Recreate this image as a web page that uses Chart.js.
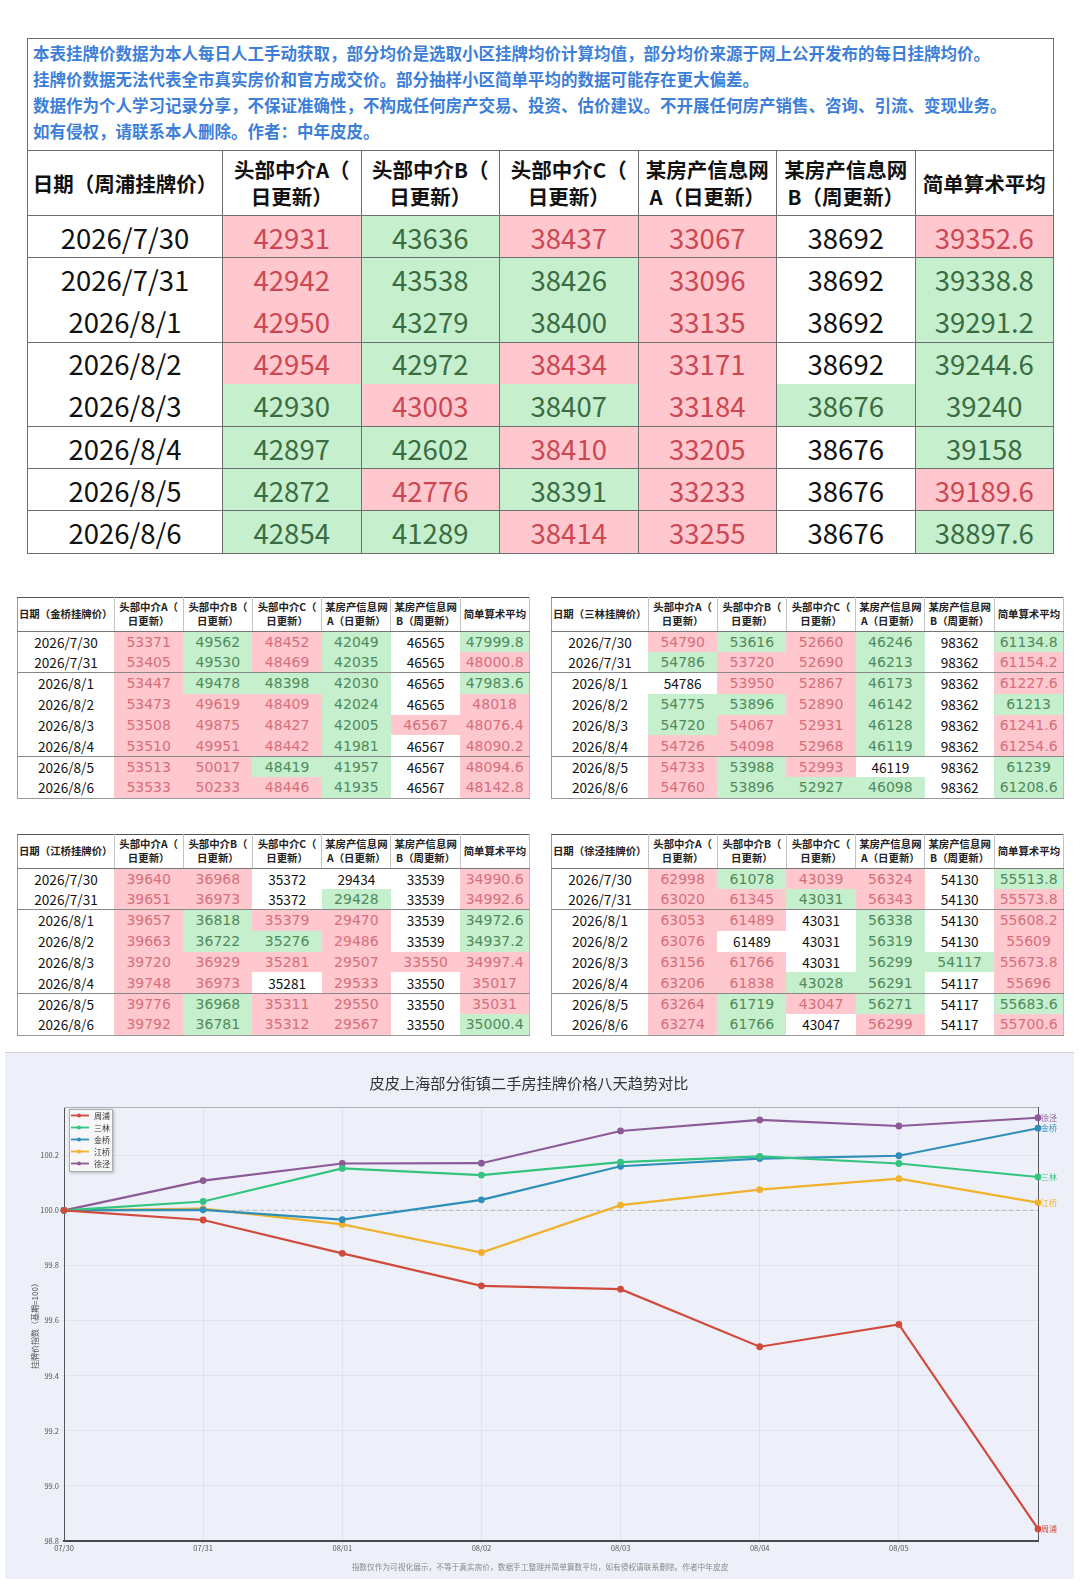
<!DOCTYPE html>
<html lang="zh-CN">
<head>
<meta charset="utf-8">
<script src="https://cdn.jsdelivr.net/npm/chart.js@4.4.1/dist/chart.umd.min.js"></script>
<style>
html, body { margin:0; padding:0; width:1080px; height:1586px; overflow:hidden; background:#fff; }
body { font-family:"Noto Sans CJK SC","Noto Sans",sans-serif; }
#page { position:relative; width:1080px; height:1586px; overflow:hidden; }
table { border-collapse:collapse; position:absolute; table-layout:fixed; }
td { padding:0; text-align:center; white-space:nowrap; overflow:hidden; }
#main { left:27px; top:38px; width:1026px; }
#main td { border:1px solid #6e6e6e; }
#main td.note { height:109px; text-align:left; vertical-align:top; color:#3d7fd8; font-size:16.5px;
  font-weight:bold; line-height:25.9px; padding:2px 0 0 5px; }
#main tr.head { height:65px; }
#main tr.head td { font-size:20.5px; font-weight:bold; line-height:27px; color:#111; }
#main tr.d { height:42.2px; }
#main tr.d td { font-size:27.5px; color:#111; }
#main tr.d td.r { background:#ffc7ce; color:#cc4752; }
#main tr.d td.g { background:#c6efce; color:#3a6c42; }
#main tr.cont td { border-top-style:hidden; }
.small { width:512px; border-left:1px solid #9a9a9a; border-right:1px solid #bcbcbc; border-top:1px solid #555; border-bottom:1px solid #999; }
.small tr.head { height:33.5px; }
.small tr.head td { font-size:10.4px; font-weight:bold; line-height:14.5px; color:#222; border-right:1px solid #c4c4c4; border-bottom:1px solid #777; }
.small tr.d { height:20.9px; }
.small tr.d td { font-size:13.6px; color:#111; line-height:20px; }
.small tr.d td.r { background:#ffc7ce; color:#d56f7b; font-family:"DejaVu Sans",sans-serif; font-size:14px; }
.small tr.d td.g { background:#c6efce; color:#4f8b5a; font-family:"DejaVu Sans",sans-serif; font-size:14px; }
.small tr.sep td { border-top:1px solid #888; }
#chartBox { position:absolute; left:5px; top:1052px; width:1069px; height:527px; background:#edf0f8; border-top:1px solid #d0d0d0; box-sizing:border-box; overflow:hidden; }
#trend { position:absolute; left:0; top:0; }
</style>
</head>
<body>
<div id="page">
<table id="main"></table>
<table class="small" id="tJinqiao" style="left:17px; top:597px;"></table>
<table class="small" id="tSanlin" style="left:551px; top:597px;"></table>
<table class="small" id="tJiangqiao" style="left:17px; top:834px;"></table>
<table class="small" id="tXujing" style="left:551px; top:834px;"></table>
<div id="chartBox"><canvas id="trend" width="1069" height="526"></canvas></div>
</div>
<script>
// ---- 表格数据 ----
const rowDates = ['2026/7/30','2026/7/31','2026/8/1','2026/8/2','2026/8/3','2026/8/4','2026/8/5','2026/8/6'];
const colHeads = ['头部中介A（<br>日更新）','头部中介B（<br>日更新）','头部中介C（<br>日更新）','某房产信息网<br>A（日更新）','某房产信息网<br>B（周更新）','简单算术平均'];
const notes = [
  '本表挂牌价数据为本人每日人工手动获取，部分均价是选取小区挂牌均价计算均值，部分均价来源于网上公开发布的每日挂牌均价。',
  '挂牌价数据无法代表全市真实房价和官方成交价。部分抽样小区简单平均的数据可能存在更大偏差。',
  '数据作为个人学习记录分享，不保证准确性，不构成任何房产交易、投资、估价建议。不开展任何房产销售、咨询、引流、变现业务。',
  '如有侵权，请联系本人删除。作者：中年皮皮。'
];

const zhoupuRows = [
  [42931,43636,38437,33067,38692,39352.6],
  [42942,43538,38426,33096,38692,39338.8],
  [42950,43279,38400,33135,38692,39291.2],
  [42954,42972,38434,33171,38692,39244.6],
  [42930,43003,38407,33184,38676,39240],
  [42897,42602,38410,33205,38676,39158],
  [42872,42776,38391,33233,38676,39189.6],
  [42854,41289,38414,33255,38676,38897.6]
];
const zhoupuMarks = ['rgrrwr','rggrwg','rggrwg','rgrrwg','grgrgg','ggrrwg','grgrwr','ggrrwg'];

const jinqiaoRows = [
  [53371,49562,48452,42049,46565,47999.8],
  [53405,49530,48469,42035,46565,48000.8],
  [53447,49478,48398,42030,46565,47983.6],
  [53473,49619,48409,42024,46565,48018],
  [53508,49875,48427,42005,46567,48076.4],
  [53510,49951,48442,41981,46567,48090.2],
  [53513,50017,48419,41957,46567,48094.6],
  [53533,50233,48446,41935,46567,48142.8]
];
const jinqiaoMarks = ['rgrgwg','rgrgwr','rgggwg','rrrgwr','rrrgrr','rrrgwr','rrggwr','rrrgwr'];

const sanlinRows = [
  [54790,53616,52660,46246,98362,61134.8],
  [54786,53720,52690,46213,98362,61154.2],
  [54786,53950,52867,46173,98362,61227.6],
  [54775,53896,52890,46142,98362,61213],
  [54720,54067,52931,46128,98362,61241.6],
  [54726,54098,52968,46119,98362,61254.6],
  [54733,53988,52993,46119,98362,61239],
  [54760,53896,52927,46098,98362,61208.6]
];
const sanlinMarks = ['rgrgwg','grrgwr','wrrgwr','ggrgwg','grrgwr','rrrgwr','rgrwwg','rgggwg'];

const jiangqiaoRows = [
  [39640,36968,35372,29434,33539,34990.6],
  [39651,36973,35372,29428,33539,34992.6],
  [39657,36818,35379,29470,33539,34972.6],
  [39663,36722,35276,29486,33539,34937.2],
  [39720,36929,35281,29507,33550,34997.4],
  [39748,36973,35281,29533,33550,35017],
  [39776,36968,35311,29550,33550,35031],
  [39792,36781,35312,29567,33550,35000.4]
];
const jiangqiaoMarks = ['rrwwwr','rrwgwr','rgrrwg','rggrwg','rrrrrr','rrwrwr','rgrrwr','rgrrwg'];

const xujingRows = [
  [62998,61078,43039,56324,54130,55513.8],
  [63020,61345,43031,56343,54130,55573.8],
  [63053,61489,43031,56338,54130,55608.2],
  [63076,61489,43031,56319,54130,55609],
  [63156,61766,43031,56299,54117,55673.8],
  [63206,61838,43028,56291,54117,55696],
  [63264,61719,43047,56271,54117,55683.6],
  [63274,61766,43047,56299,54117,55700.6]
];
const xujingMarks = ['rgrrwg','rrgrwr','rrwgwr','rwwgwr','rrwggr','rrggwr','rgrgwg','rgwrwr'];

// ---- 指数数据（基期 07/30 = 100）----
const dayLabels = ['07/30','07/31','08/01','08/02','08/03','08/04','08/05','08/06'];
const zhoupuIdx    = [100, 99.965, 99.844, 99.726, 99.714, 99.505, 99.586, 98.844];
const sanlinIdx    = [100, 100.032, 100.152, 100.128, 100.175, 100.196, 100.170, 100.121];
const jinqiaoIdx   = [100, 100.002, 99.966, 100.038, 100.160, 100.188, 100.198, 100.298];
const jiangqiaoIdx = [100, 100.006, 99.949, 99.847, 100.019, 100.075, 100.115, 100.028];
const xujingIdx    = [100, 100.108, 100.170, 100.171, 100.288, 100.328, 100.306, 100.336];
const yTicks = [98.8, 99.0, 99.2, 99.4, 99.6, 99.8, 100.0, 100.2];

// ---- 画表 ----
function fill(id, name, rows, marks, big, contRows, sepRows) {
  const t = document.getElementById(id);
  let h = '<colgroup>';
  const w = big ? [195,138.5,138.5,138.5,138.5,138.5,138.5] : [96.5,69.3,69.2,69.3,69.2,69.3,69.2];
  w.forEach(x => h += '<col style="width:' + x + 'px">');
  h += '</colgroup>';
  if (big) h += '<tr><td class="note" colspan="7">' + notes.join('<br>') + '</td></tr>';
  h += '<tr class="head"><td>日期（' + name + '挂牌价）</td>';
  colHeads.forEach(c => h += '<td>' + c + '</td>');
  h += '</tr>';
  rows.forEach((r, i) => {
    let cls = 'd';
    if (contRows.includes(i)) cls += ' cont';
    if (sepRows.includes(i)) cls += ' sep';
    h += '<tr class="' + cls + '"><td>' + rowDates[i] + '</td>';
    r.forEach((v, j) => h += '<td class="' + marks[i][j] + '">' + v + '</td>');
    h += '</tr>';
  });
  t.innerHTML = h;
}
fill('main', '周浦', zhoupuRows, zhoupuMarks, true, [2, 4], []);
fill('tJinqiao', '金桥', jinqiaoRows, jinqiaoMarks, false, [], [2, 6]);
fill('tSanlin', '三林', sanlinRows, sanlinMarks, false, [], [2, 6]);
fill('tJiangqiao', '江桥', jiangqiaoRows, jiangqiaoMarks, false, [], [2, 6]);
fill('tXujing', '徐泾', xujingRows, xujingMarks, false, [], [2, 6]);

// ---- 折线图 ----
const CJK = '"Noto Sans CJK SC", sans-serif';
Chart.defaults.font.family = CJK;

const decor = {
  id: 'decor',
  beforeDatasetsDraw(chart) {
    const { ctx, chartArea: a, scales } = chart;
    const y0 = scales.y.getPixelForValue(100);
    ctx.save();
    ctx.strokeStyle = '#b5b5b5';
    ctx.lineWidth = 1;
    ctx.setLineDash([4, 3]);
    ctx.beginPath(); ctx.moveTo(a.left, y0); ctx.lineTo(a.right, y0); ctx.stroke();
    ctx.setLineDash([]);
    ctx.strokeStyle = '#b0b0b8';
    ctx.beginPath(); ctx.moveTo(a.left, a.top + 0.5); ctx.lineTo(a.right, a.top + 0.5); ctx.stroke();
    ctx.strokeStyle = '#555';
    ctx.beginPath(); ctx.moveTo(a.right + 0.5, a.top); ctx.lineTo(a.right + 0.5, a.bottom); ctx.stroke();
    ctx.restore();
  },
  afterDraw(chart) {
    const { ctx, chartArea: a } = chart;
    ctx.save();
    ctx.fillStyle = '#333';
    ctx.font = '15.2px ' + CJK;
    ctx.textAlign = 'center';
    ctx.textBaseline = 'middle';
    ctx.fillText('皮皮上海部分街镇二手房挂牌价格八天趋势对比', 524, 30);
    ctx.fillStyle = '#8a8a8a';
    ctx.font = '7.7px ' + CJK;
    ctx.fillText('指数仅作为可视化展示，不等于真实房价，数据手工整理并简单算数平均，如有侵权请联系删除。作者中年皮皮', 535, 514);
    // 线尾标签
    ctx.font = '8px ' + CJK;
    ctx.textAlign = 'left';
    chart.data.datasets.forEach((ds, i) => {
      const pts = chart.getDatasetMeta(i).data;
      const p = pts[pts.length - 1];
      ctx.fillStyle = ds.borderColor;
      ctx.fillText(ds.label, p.x + 3, p.y);
    });
    // 图例
    const lx = a.left + 5, ly = a.top + 2, lw = 44, lh = 63;
    ctx.shadowColor = 'rgba(0,0,0,0.25)';
    ctx.shadowBlur = 3; ctx.shadowOffsetX = 1; ctx.shadowOffsetY = 1;
    ctx.fillStyle = 'rgba(250,250,252,0.95)';
    ctx.fillRect(lx, ly, lw, lh);
    ctx.shadowColor = 'transparent';
    ctx.strokeStyle = '#9a9a9a';
    ctx.lineWidth = 0.8;
    ctx.strokeRect(lx + 0.5, ly + 0.5, lw - 1, lh - 1);
    ctx.font = '8px ' + CJK;
    chart.data.datasets.forEach((ds, i) => {
      const yy = ly + 6.5 + i * 12;
      ctx.strokeStyle = ds.borderColor;
      ctx.lineWidth = 1.8;
      ctx.beginPath(); ctx.moveTo(lx + 2, yy); ctx.lineTo(lx + 20, yy); ctx.stroke();
      ctx.fillStyle = ds.borderColor;
      ctx.beginPath(); ctx.arc(lx + 10, yy, 2, 0, Math.PI * 2); ctx.fill();
      ctx.fillStyle = '#333';
      ctx.fillText(ds.label, lx + 25, yy);
    });
    ctx.restore();
  }
};

const series = [
  { label: '周浦', data: zhoupuIdx, color: '#d14b3d' },
  { label: '三林', data: sanlinIdx, color: '#33c47f' },
  { label: '金桥', data: jinqiaoIdx, color: '#2f8fb8' },
  { label: '江桥', data: jiangqiaoIdx, color: '#f0b12e' },
  { label: '徐泾', data: xujingIdx, color: '#8c5a97' }
];

new Chart(document.getElementById('trend').getContext('2d'), {
  type: 'line',
  data: {
    labels: dayLabels,
    datasets: series.map(s => ({
      label: s.label,
      data: s.data,
      borderColor: s.color,
      backgroundColor: s.color,
      pointBackgroundColor: s.color,
      pointBorderColor: s.color,
      borderWidth: 2.2,
      pointRadius: 2.3,
      tension: 0
    }))
  },
  options: {
    responsive: false,
    animation: false,
    layout: { padding: { top: 54, right: 36, bottom: 22, left: 0 } },
    plugins: { legend: { display: false }, title: { display: false }, tooltip: { enabled: false } },
    scales: {
      x: {
        offset: false,
        grid: { color: 'rgba(196,200,220,0.3)', tickLength: 3 },
        border: { color: '#4a4a4a', width: 2 },
        ticks: {
          font: { size: 7.5 }, color: '#555', padding: 0, maxRotation: 0, autoSkip: false,
          callback: (v, i) => i === dayLabels.length - 1 ? '' : dayLabels[i]
        },
        afterFit: s => { s.height = 16; }
      },
      y: {
        min: 98.8,
        max: 100.375,
        afterBuildTicks: s => { s.ticks = yTicks.map(v => ({ value: v })); },
        grid: { color: 'rgba(196,200,220,0.3)', tickLength: 3 },
        border: { color: '#555', width: 1 },
        ticks: { font: { size: 7.5 }, color: '#555', padding: 2, callback: v => v.toFixed(1) },
        title: { display: true, text: '挂牌价指数（基期=100）', font: { size: 8 }, color: '#555', padding: { top: 25, bottom: 0 } },
        afterFit: s => { s.width = 59; }
      }
    }
  },
  plugins: [decor]
});
</script>
</body>
</html>
